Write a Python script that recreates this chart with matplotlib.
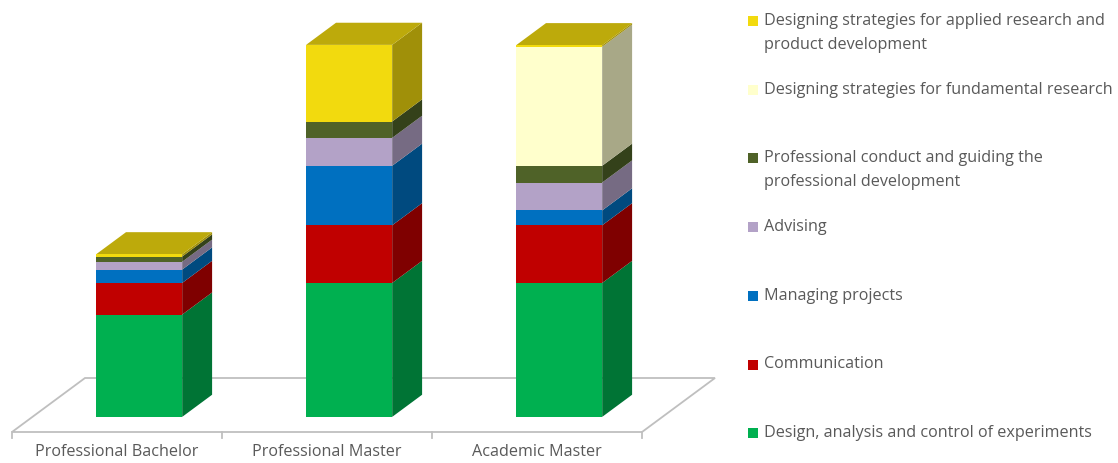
import numpy as np
import matplotlib
matplotlib.use("Agg")
import matplotlib.pyplot as plt
from matplotlib.patches import Polygon, Rectangle
from matplotlib.colors import to_rgb

plt.rcParams['font.family'] = ['Open Sans', 'DejaVu Sans']

categories = ["Professional Bachelor", "Professional Master", "Academic Master"]

# stacked from the bottom up
series = [
    "Design, analysis and control of experiments",
    "Communication",
    "Managing projects",
    "Advising",
    "Professional conduct and guiding the\nprofessional development",
    "Designing strategies for fundamental research",
    "Designing strategies for applied research and\nproduct development",
]
design = [27.5, 36.0, 36.0]
communication = [8.5, 15.5, 15.5]
managing = [3.6, 16.0, 4.0]
advising = [2.1, 7.5, 7.5]
conduct = [1.4, 4.4, 4.5]
fundamental = [0.0, 0.0, 32.0]
applied = [0.6, 20.6, 0.4]
values = [design, communication, managing, advising, conduct, fundamental, applied]

colors = ["#00B050", "#C00000", "#0070C0", "#B3A2C7", "#4F6228", "#FFFFCC", "#F2DA0E"]

# oblique "3d" projection: px per category / per value unit, depth offsets
W, H = 1118, 463
PX_CAT = 210.0
PX_VAL = 3.72
LEFT_PX = 12
FLOOR_PY = 432
DX = 73 / PX_CAT
DY = 54 / PX_VAL
D0, D1 = 0.28, 0.69
BAR_L, BAR_W = 0.303, 0.41
FS = 11.6


def proj(x, v, d):
    return (x + DX * d, v + DY * d)


def shade(c, f):
    return tuple(np.array(to_rgb(c)) * f)


fig = plt.figure(figsize=(W / 100, H / 100), dpi=100)
ax = fig.add_axes([0, 0, 1, 1])
ax.set_xlim(-LEFT_PX / PX_CAT, (W - LEFT_PX) / PX_CAT)
ax.set_ylim(-(H - FLOOR_PY) / PX_VAL, FLOOR_PY / PX_VAL)
ax.axis('off')

# floor
n = len(categories)
floor = [proj(0, 0, 0), proj(n, 0, 0), proj(n, 0, 1), proj(0, 0, 1)]
ax.add_patch(Polygon(floor, closed=True, facecolor="white", edgecolor="#BFBFBF",
                     lw=1.3, zorder=1))
for i in range(n + 1):
    ax.plot([i, i], [0, -6 / PX_VAL], color="#BFBFBF", lw=1.3, zorder=1)

for i, cat in enumerate(categories):
    ax.text(i + 0.5, -20 / PX_VAL, cat, ha="center", va="center",
            fontsize=FS, color="#595959")

# bars
for i in range(n):
    xl = i + BAR_L
    xr = xl + BAR_W
    base = 0.0
    top_color = None
    for vals, col in zip(values, colors):
        h = vals[i]
        if h <= 0:
            continue
        side = [proj(xr, base, D0), proj(xr, base + h, D0),
                proj(xr, base + h, D1), proj(xr, base, D1)]
        ax.add_patch(Polygon(side, closed=True, facecolor=shade(col, 0.66),
                             edgecolor="none", zorder=2))
        ax.bar(xl + DX * D0, h, width=BAR_W, bottom=base + DY * D0, align="edge",
               color=col, edgecolor="none", zorder=3)
        base += h
        top_color = col
    top = [proj(xl, base, D0), proj(xr, base, D0),
           proj(xr, base, D1), proj(xl, base, D1)]
    ax.add_patch(Polygon(top, closed=True, facecolor=shade(top_color, 0.78),
                         edgecolor="none", zorder=2))

# legend (top entry first, as in the reference)
for k, (lab, col) in enumerate(zip(series[::-1], colors[::-1])):
    y0 = 21 + 68.7 * k
    fig.patches.append(Rectangle((748 / W, 1 - (y0 + 5) / H), 10 / W, 10 / H,
                                 transform=fig.transFigure, facecolor=col,
                                 edgecolor="none"))
    for j, line in enumerate(lab.split("\n")):
        fig.text(764 / W, 1 - (y0 + 24 * j) / H, line, ha="left", va="center",
                 fontsize=FS, color="#595959")

fig.savefig("out.png", dpi=100)
